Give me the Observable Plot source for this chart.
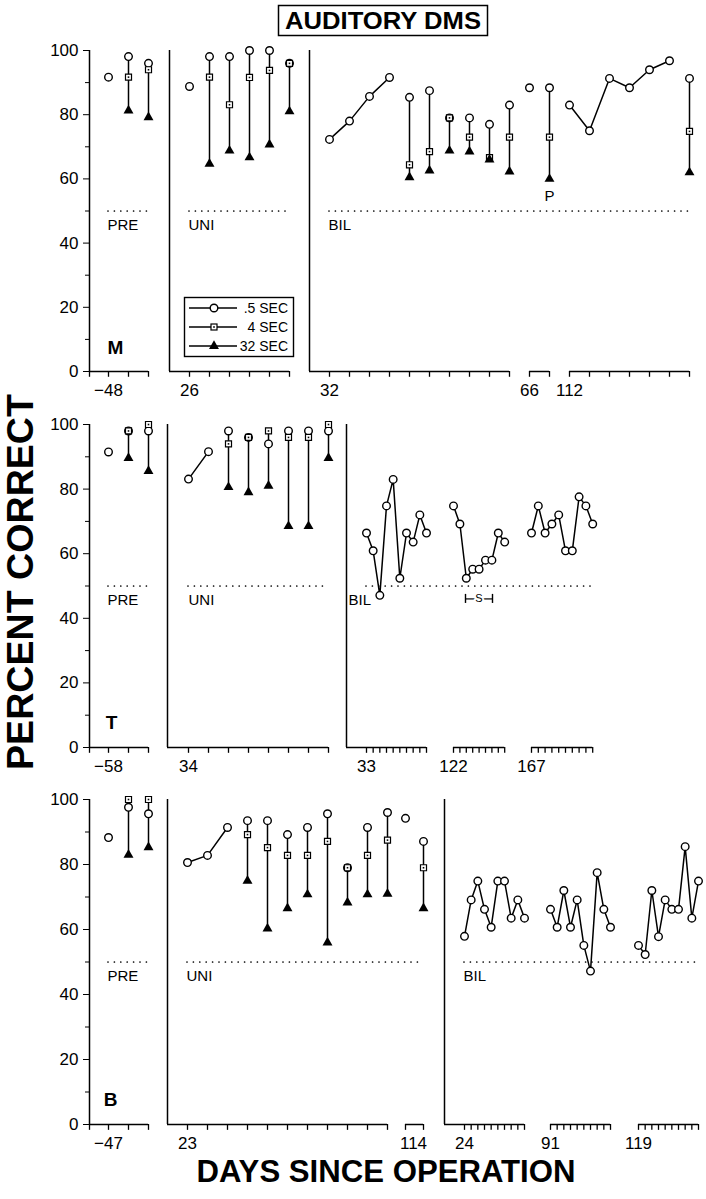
<!DOCTYPE html>
<html><head><meta charset="utf-8">
<script src="https://cdn.jsdelivr.net/npm/d3@7"></script>
<script src="https://cdn.jsdelivr.net/npm/@observablehq/plot@0.6"></script>
<style>
body{margin:0;background:#fff;}
#wrap{position:relative;width:706px;height:1199px;font-family:"Liberation Sans",Arial,sans-serif;overflow:hidden;}
.panel{position:absolute;left:0;}
#overlay{position:absolute;left:0;top:0;}
</style></head><body><div id="wrap"></div>
<script>
// ---------- shared ----------
const yTicks = [0, 20, 40, 60, 80, 100];
const yMinor = [10, 30, 50, 70, 90];
const legendLabels = [".5 SEC", "4 SEC", "32 SEC"];
const phaseNames = ["PRE", "UNI", "BIL"];

// ---------- Monkey M ----------
const mX   = [0.95,1.95,2.95, 5,6,7,8,9,10, 12,13,14,15,16,17,18,19,20,21, 22,23, 24,25,26,27,28,29,30];
const mC   = [91.7,98.1,96, 88.8,98.1,98.1,100,100,96, 72.3,78,85.7,91.6,85.4,87.5,79,79,77,83, 88.4,88.4, 83,75,91.3,88.4,94,96.8,91.3];
const mS   = [null,91.7,94, null,91.7,83.1,91.6,93.8,96, null,null,null,null,64.4,68.5,79,73,66.6,73, null,73, null,null,null,null,null,null,74.8];
const mT   = [null,81.3,79.2, null,64.7,68.8,66.7,70.7,81, null,null,null,null,60.5,62.6,68.8,68.5,66,62.3, null,60, null,null,null,null,null,null,62];
const mRun = [0,0,0, 0,0,0,0,0,0, 1,1,1,1,0,0,0,0,0,0, 0,0, 2,2,2,2,2,2,0];
const mSeps = [4, 11];
const mDayLabels = ["−48", "26", "32", "66", "112"];
const mDayAt = [0.95, 5, 12, 22, 24];

// ---------- Monkey T ----------
const tX   = [0.95,1.95,2.95, 4.95,5.95,6.95,7.95,8.95,9.95,10.95,11.95];
const tC   = [91.5,98,98, 83.1,91.6,98,96,94,98,98,98];
const tS   = [null,98,100, null,null,94,96,98,96,96,100];
const tT   = [null,89.6,85.6, null,null,80.6,79,81,68.5,68.5,89.6];
const tRun = [0,0,0, 1,1,0,0,0,0,0,0];
const tBil1 = [66.4,60.9,47.1,74.8,83.0,52.4,66.4,63.6,72,66.4];
const tBil2 = [74.8,69.2,52.4,55.2,55.2,58,58,66.4,63.6];
const tBil3 = [66.4,74.8,66.4,69.2,72,60.9,60.9,77.6,74.8,69.2];
const tSeps = [3.9, 12.85];
const tDayLabels = ["−58", "34", "33", "122", "167"];

// ---------- Monkey B ----------
const bX   = [0.95,1.95,2.95, 4.9,5.9,6.9,7.9,8.9,9.9,10.9,11.9,12.9,13.9,14.9, 15.8,16.7];
const bC   = [88.3,97.6,95.6, 80.6,82.8,91.4,93.5,93.5,89.2,91.4,95.6,79,91.4,96, 94.2,87.1];
const bS   = [null,100,100, null,null,null,89.2,85.2,82.8,82.8,87.1,79,82.8,87.5, null,79];
const bT   = [null,83,85.3, null,null,null,75,60.3,66.5,70.8,56,68.3,70.8,71, null,66.5];
const bRun = [0,0,0, 1,1,1,0,0,0,0,0,0,0,0, 0,0];
const bBil1 = [57.9,69.1,74.9,66.2,60.7,74.9,74.9,63.5,69.1,63.5];
const bBil2 = [66.2,60.7,72,60.7,69.1,55.1,47.2,77.5,66.2,60.7];
const bBil3 = [55.1,52.3,72,57.8,69.1,66.2,66.2,85.5,63.5,74.9];
const bSeps = [3.9, 17.75];
const bDayLabels = ["−47", "23", "114", "24", "91", "119"];

// ---------- helpers ----------
const rows = (xs, c, s, t, run) => xs.map((x, i) => ({x, c: c[i], s: s[i], t: t[i], run: run[i]}));
const group = (start, step, vals, run) => vals.map((v, i) => ({x: start + i * step, c: v, s: null, t: null, run}));
const span = g => [g[0].x, g[g.length - 1].x];

function panel(cfg) {
  const data = cfg.rows;
  const ranged = data.filter(d => d.s != null || d.t != null);
  const linePts = data.filter(d => d.run);
  const ticks = [0, ...data.map(d => d.x)];
  const lo = d => d3.min([d.c, d.s, d.t]);
  const hi = d => d3.max([d.c, d.s, d.t]);
  const plotH = cfg.y0 - cfg.y100;
  const chart = Plot.plot({
    width: 706,
    height: plotH + 50 + 36,
    marginLeft: 89, marginRight: 8, marginTop: 50, marginBottom: 36,
    x: {domain: [0, 30.45], axis: null},
    y: {domain: [0, 100]},
    style: {fontFamily: "'Liberation Sans', Arial, sans-serif", color: "black", background: "transparent", overflow: "visible"},
    marks: [
      Plot.ruleY(cfg.chance, {x1: d => d[0], x2: d => d[1], y: 50, stroke: "black", strokeWidth: 1.7, strokeDasharray: "0,6.4", strokeLinecap: "round"}),
      Plot.ruleX([0, ...cfg.seps], {x: d => d, y1: 0, y2: 100, strokeWidth: 1.5}),
      Plot.ruleY(cfg.segments, {x1: d => d[0], x2: d => d[1], y: 0, strokeWidth: 1.5}),
      Plot.ruleX(ticks, {x: d => d, y1: 0, y2: -1.8, strokeWidth: 1.3}),
      Plot.axisY({ticks: yTicks, tickSize: 6, tickPadding: 5, fontSize: 17, label: null}),
      Plot.axisY({ticks: yMinor, tickSize: 4, tickFormat: () => "", label: null}),
      Plot.text(cfg.dayLabels, {x: (d, i) => cfg.dayAt[i], y: 0, text: d => d, dy: 19.5, fontSize: 17}),
      Plot.text(phaseNames, {x: (d, i) => cfg.phaseAt[i], y: 45.5, text: d => d, textAnchor: "start", fontSize: 15}),
      Plot.text([cfg.letter], {x: cfg.letterX, y: 7.5, text: d => d, fontSize: 19, fontWeight: "bold"}),
      Plot.ruleX(ranged, {x: "x", y1: lo, y2: hi, strokeWidth: 1.5}),
      Plot.line(linePts, {x: "x", y: "c", z: "run", strokeWidth: 1.5}),
      Plot.dot(data.filter(d => d.c != null), {x: "x", y: "c", r: 3.8, fill: "white", stroke: "black", strokeWidth: 1.4}),
      Plot.dot(data.filter(d => d.s != null), {x: "x", y: "s", symbol: "square", r: 3.4, fill: "white", stroke: "black", strokeWidth: 1.2}),
      Plot.dot(data.filter(d => d.s != null), {x: "x", y: "s", symbol: "square", r: 0.9, fill: "black"}),
      Plot.dot(data.filter(d => d.t != null), {x: "x", y: "t", symbol: "triangle", r: 3.7, fill: "black"}),
      ...(cfg.extra || [])
    ]
  });
  chart.classList.add("panel");
  chart.style.top = (cfg.y100 - 50) + "px";
  return chart;
}

const wrap = document.getElementById("wrap");

// M
const mRows = rows(mX, mC, mS, mT, mRun);
wrap.appendChild(panel({
  rows: mRows, y100: 50, y0: 371, seps: mSeps,
  segments: [[0, 2.95], [4, 10], [11, 21], [22, 23], [24, 30]],
  chance: [[0.95, 2.95], [5, 10], [12, 30]],
  dayLabels: mDayLabels, dayAt: mDayAt,
  phaseAt: [0.9, 4.95, 11.95], letter: "M", letterX: 1.3,
  extra: [Plot.text(["P"], {x: 23, y: 54.6, text: d => d, fontSize: 15})]
}));

// T
const tG1 = group(13.85, 1/3, tBil1, 11), tG2 = group(18.2, 0.32, tBil2, 12), tG3 = group(22.1, 0.34, tBil3, 13);
const tRows = [...rows(tX, tC, tS, tT, tRun), ...tG1, ...tG2, ...tG3];
const sBracket = [[18.8, 20.15]];
wrap.appendChild(panel({
  rows: tRows, y100: 424, y0: 747, seps: tSeps,
  segments: [[0, 2.95], [3.9, 11.95], [12.85, span(tG1)[1]], span(tG2), span(tG3)],
  chance: [[0.95, 2.95], [4.95, 11.95], [span(tG1)[0], span(tG3)[1]]],
  dayLabels: tDayLabels, dayAt: [0.95, 4.95, tG1[0].x, tG2[0].x, tG3[0].x],
  phaseAt: [0.9, 4.95, 12.95], letter: "T", letterX: 1.1,
  extra: [
    Plot.ruleY(sBracket, {x1: d => d[0], x2: d => d[1], y: 46, strokeWidth: 1.2}),
    Plot.ruleX(sBracket.flat(), {x: d => d, y1: 44.6, y2: 47.4, strokeWidth: 1.4}),
    Plot.text(["S"], {x: d3.mean(sBracket[0]), y: 46, text: d => d, fontSize: 11, stroke: "white", strokeWidth: 4, fill: "black"})
  ]
}));

// B
const bG1 = group(18.75, 1/3, bBil1, 11), bG2 = group(23.05, 1/3, bBil2, 12), bG3 = group(27.45, 1/3, bBil3, 13);
const bRows = [...rows(bX, bC, bS, bT, bRun), ...bG1, ...bG2, ...bG3];
wrap.appendChild(panel({
  rows: bRows, y100: 799, y0: 1124, seps: bSeps,
  segments: [[0, 2.95], [3.9, 14.9], [15.8, 16.7], [17.75, span(bG1)[1]], span(bG2), span(bG3)],
  chance: [[0.95, 2.95], [4.9, 16.7], [span(bG1)[0], span(bG3)[1]]],
  dayLabels: bDayLabels, dayAt: [0.95, 4.9, 16.2, bG1[0].x, bG2[0].x, bG3[0].x],
  phaseAt: [0.9, 4.85, 18.7], letter: "B", letterX: 1.05
}));

// ---------- overlay: titles and legend ----------
const ov = d3.create("svg").attr("id", "overlay").attr("width", 706).attr("height", 1199)
  .style("font-family", "'Liberation Sans', Arial, sans-serif");
ov.append("rect").attr("x", 278.5).attr("y", 5.5).attr("width", 209).attr("height", 30)
  .attr("fill", "white").attr("stroke", "black").attr("stroke-width", 1.5);
ov.append("text").attr("x", 383).attr("y", 29).attr("text-anchor", "middle")
  .attr("font-size", 24).attr("font-weight", "bold").attr("textLength", 196).attr("lengthAdjust", "spacingAndGlyphs")
  .text("AUDITORY DMS");
ov.append("text").attr("transform", "translate(33,582) rotate(-90)").attr("text-anchor", "middle")
  .attr("font-size", 36).attr("font-weight", "bold").attr("textLength", 376).attr("lengthAdjust", "spacingAndGlyphs")
  .text("PERCENT CORRECT");
ov.append("text").attr("x", 386).attr("y", 1182).attr("text-anchor", "middle")
  .attr("font-size", 31).attr("font-weight", "bold").attr("textLength", 379).attr("lengthAdjust", "spacingAndGlyphs")
  .text("DAYS SINCE OPERATION");

// legend (inside panel M)
const lg = ov.append("g").attr("transform", "translate(184,297)");
lg.append("rect").attr("x", 0.5).attr("y", 0.5).attr("width", 109).attr("height", 59)
  .attr("fill", "white").attr("stroke", "black").attr("stroke-width", 1.4);
legendLabels.forEach((lab, i) => {
  const y = 11 + i * 19;
  lg.append("line").attr("x1", 5).attr("x2", 53).attr("y1", y).attr("y2", y).attr("stroke", "black").attr("stroke-width", 1.5);
  if (i === 0) lg.append("circle").attr("cx", 30).attr("cy", y).attr("r", 3.8).attr("fill", "white").attr("stroke", "black").attr("stroke-width", 1.4);
  if (i === 1) {
    lg.append("rect").attr("x", 27).attr("y", y - 3).attr("width", 6).attr("height", 6).attr("fill", "white").attr("stroke", "black").attr("stroke-width", 1.2);
    lg.append("rect").attr("x", 29.2).attr("y", y - 0.8).attr("width", 1.6).attr("height", 1.6).attr("fill", "black");
  }
  if (i === 2) lg.append("path").attr("d", d3.symbol(d3.symbolTriangle, 3.7 * 3.7 * Math.PI)()).attr("transform", `translate(30,${y})`).attr("fill", "black");
  lg.append("text").attr("x", 104).attr("y", y).attr("dy", "0.35em").attr("text-anchor", "end").attr("font-size", 14).text(lab);
});
wrap.appendChild(ov.node());
</script></body></html>
